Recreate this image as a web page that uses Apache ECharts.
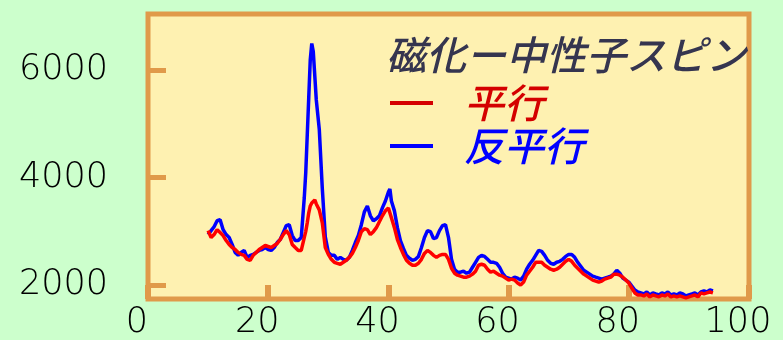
<!DOCTYPE html>
<html>
<head>
<meta charset="utf-8">
<script src="https://cdn.jsdelivr.net/npm/echarts@6/dist/echarts.min.js"></script>
<style>html,body{margin:0;padding:0;background:#ccffcc;}#c{width:783px;height:340px;}</style>
</head>
<body>
<div id="c"></div>
<script>
var xs = [10,10.5,11,11.5,12,12.5,13,13.5,14,14.5,15,15.5,16,16.5,17,17.5,18,18.5,19,19.5,20,20.5,21,21.5,22,22.5,23,23.5,24,24.5,25,25.5,26,26.25,26.5,26.75,27,27.25,27.5,27.75,28,28.5,29,29.5,30,30.5,31,31.5,32,32.5,33,33.5,34,34.5,35,35.5,36,36.5,37,37.5,38,38.5,39,39.5,40,40.25,40.5,41,41.5,42,42.5,43,43.5,44,44.5,45,45.5,46,46.5,47,47.5,48,48.5,49,49.5,50,50.5,51,51.5,52,52.5,53,53.5,54,54.5,55,55.5,56,56.5,57,57.5,58,58.5,59,59.5,60,60.5,61,61.5,62,62.5,63,63.5,64,64.5,65,65.5,66,66.5,67,67.5,68,68.5,69,69.5,70,70.5,71,71.5,72,72.5,73,73.5,74,74.5,75,75.5,76,76.5,77,77.5,78,78.5,79,79.5,80,80.5,81,81.5,82,82.5,83,83.5,84,84.5,85,85.5,86,86.5,87,87.5,88,88.5,89,89.5,90,90.5,91,91.5,92,92.5,93,93.5,94];
var antiParallel = [2940,3014,3087,3198,3216,3032,2940,2885,2756,2608,2553,2608,2645,2516,2553,2571,2608,2645,2663,2700,2663,2645,2700,2792,2848,2977,3106,3124,2922,2829,2829,2885,3622,4100,4800,5500,6200,6500,6350,5900,5450,4900,3800,2900,2608,2553,2553,2479,2516,2479,2461,2516,2645,2792,2922,3124,3364,3474,3290,3198,3235,3290,3437,3567,3732,3788,3567,3382,3069,2829,2682,2553,2498,2461,2479,2534,2700,2885,3014,2995,2866,2885,3014,3106,3124,2885,2479,2295,2240,2240,2258,2221,2240,2332,2424,2516,2553,2534,2479,2424,2424,2405,2332,2221,2147,2129,2111,2147,2129,2092,2166,2295,2387,2461,2553,2645,2627,2553,2461,2405,2387,2424,2442,2479,2534,2571,2571,2516,2424,2350,2276,2240,2203,2166,2147,2129,2111,2129,2147,2166,2203,2276,2221,2129,2092,2055,1982,1908,1871,1853,1834,1871,1816,1853,1834,1816,1853,1834,1871,1816,1834,1816,1853,1834,1797,1816,1834,1853,1816,1871,1890,1871,1908,1890];
var parallel = [3014,2885,2940,3032,2977,2922,2829,2756,2700,2663,2608,2571,2553,2479,2461,2553,2608,2663,2700,2737,2718,2700,2737,2774,2848,2940,3014,2940,2756,2700,2645,2645,2885,3000,3160,3345,3474,3530,3567,3585,3511,3400,3160,2700,2571,2479,2424,2405,2387,2424,2461,2516,2590,2700,2829,2995,3050,3032,2940,2995,3069,3180,3290,3382,3437,3420,3253,3069,2848,2700,2571,2461,2405,2369,2369,2405,2479,2590,2645,2608,2553,2516,2553,2571,2571,2479,2313,2221,2184,2166,2147,2147,2166,2203,2258,2369,2387,2369,2295,2240,2258,2221,2184,2166,2129,2092,2111,2092,2037,2000,2055,2184,2258,2332,2424,2424,2424,2369,2332,2295,2276,2295,2332,2387,2442,2479,2442,2369,2313,2258,2203,2166,2129,2092,2074,2055,2074,2111,2129,2147,2203,2203,2184,2147,2092,2037,1945,1853,1816,1816,1797,1834,1779,1816,1797,1779,1816,1797,1834,1779,1797,1779,1797,1779,1760,1779,1797,1816,1779,1853,1834,1853,1871,1853];
var xTicks = [0,20,40,60,80,100];
var yTicks = [2000,4000,6000];
var titleText = '磁化ー中性子スピン';
var names = ['平行','反平行'];

function pairs(v){ return xs.map(function(x,i){ return [x, v[i]]; }); }
var orange = '#e09a4a';
var chart = echarts.init(document.getElementById('c'));
chart.setOption({
  backgroundColor: '#ccffcc',
  animation: false,
  title: {
    text: titleText, left: 381, top: 30,
    textStyle: { fontFamily: 'Noto Sans CJK JP', fontSize: 40, fontStyle: 'italic', fontWeight: 500, color: '#35354f' }
  },
  legend: {
    orient: 'vertical', left: 385, top: 78, itemWidth: 43, itemHeight: 4, itemGap: 3,
    icon: 'rect',
    data: [
      { name: names[0], itemStyle: { color: '#d40000' }, textStyle: { color: '#d40000' } },
      { name: names[1], itemStyle: { color: '#0000ff' }, textStyle: { color: '#0000ff' } }
    ],
    textStyle: { fontFamily: 'Noto Sans CJK JP', fontSize: 40, fontStyle: 'italic', fontWeight: 500, padding: [0, 0, 0, 26] }
  },
  grid: { left: 148, right: 34, top: 14, bottom: 38, show: true, backgroundColor: '#fef1b1', borderColor: orange, borderWidth: 5 },
  xAxis: {
    type: 'value', min: 0, max: 100, interval: 20,
    axisLine: { show: false },
    splitLine: { show: false },
    axisTick: { show: true, inside: true, length: 14, lineStyle: { color: orange, width: 6 } },
    axisLabel: { margin: 6, color: '#000', fontFamily: 'DejaVu Sans', fontWeight: 200, fontSize: 35, padding: [0, 22, 0, 0],
      customValues: xTicks, formatter: function(v){ return String(v); } }
  },
  yAxis: {
    type: 'value', min: 1740, max: 7050,
    axisLine: { show: false },
    splitLine: { show: false },
    axisTick: { show: true, inside: true, length: 18, customValues: yTicks, lineStyle: { color: orange, width: 5 } },
    axisLabel: { margin: 40, color: '#000', fontFamily: 'DejaVu Sans', fontWeight: 200, fontSize: 35, customValues: yTicks,
      formatter: function(v){ return String(v); } }
  },
  series: [
    { name: names[1], type: 'line', data: pairs(antiParallel), showSymbol: false, symbol: 'none', lineStyle: { color: '#0000ff', width: 3.5 }, itemStyle: { color: '#0000ff' }, z: 2 },
    { name: names[0], type: 'line', data: pairs(parallel), showSymbol: false, symbol: 'none', lineStyle: { color: '#ff0000', width: 3.5 }, itemStyle: { color: '#ff0000' }, z: 3 }
  ]
});
</script>
</body>
</html>
